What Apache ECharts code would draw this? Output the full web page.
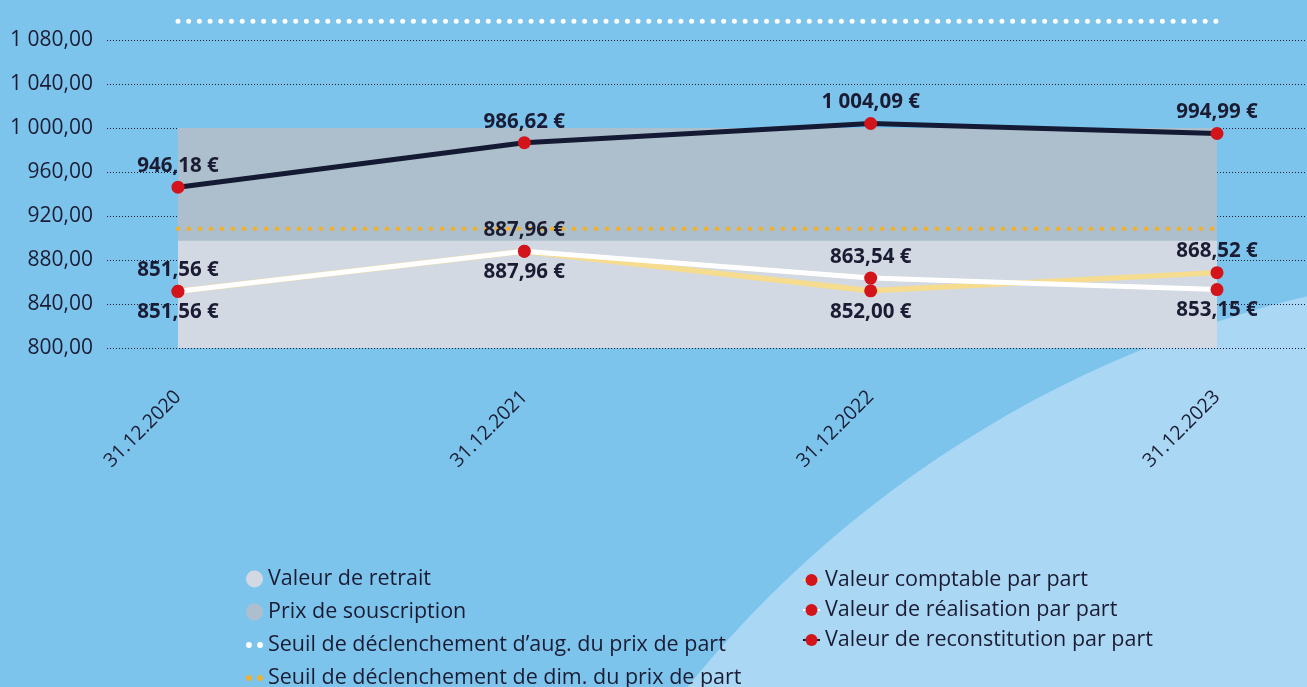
<!DOCTYPE html>
<html>
<head>
<meta charset="utf-8">
<script src="https://cdn.jsdelivr.net/npm/echarts@6/dist/echarts.min.js"></script>
<style>
html,body{margin:0;padding:0;background:#7cc4ec;}
#chart{width:1307px;height:687px;}
</style>
</head>
<body>
<div id="chart"></div>
<script>
const categories = ['31.12.2020', '31.12.2021', '31.12.2022', '31.12.2023'];
const valeurRetrait = [897.5, 897.5, 897.5, 897.5];
const prixSouscription = [1000, 1000, 1000, 1000];
const seuilAugmentation = [1097, 1097, 1097, 1097];
const seuilDiminution = [908.5, 908.5, 908.5, 908.5];
const valeurComptable = [851.56, 887.96, 852.00, 868.52];
const valeurRealisation = [851.56, 887.96, 863.54, 853.15];
const valeurReconstitution = [946.18, 986.62, 1004.09, 994.99];
const yMin = 800, yMax = 1080, yStep = 40;

const FONT = 'Open Sans';
const INK = '#1b1c33';

function fmt(v) {
  const p = v.toFixed(2).split('.');
  return p[0].replace(/\B(?=(\d{3})+(?!\d))/g, ' ') + ',' + p[1];
}
function euro(v) { return fmt(v) + ' €'; }

function withPos(vals, other, tieTop) {
  return vals.map((v, i) => ({
    value: v,
    label: { position: (v > other[i] || (v === other[i] && tieTop)) ? 'top' : 'bottom' }
  }));
}

const twoDots = 'path://M0,2.5a2.5,2.5 0 1,0 5,0a2.5,2.5 0 1,0 -5,0M9.5,2.5a2.5,2.5 0 1,0 5,0a2.5,2.5 0 1,0 -5,0';

const dataLabel = {
  show: true,
  formatter: p => euro(p.value),
  fontFamily: FONT, fontWeight: 'bold', fontSize: 20.5, color: INK,
  distance: 4
};

const chart = echarts.init(document.getElementById('chart'));
chart.setOption({
  backgroundColor: '#7cc4ec',
  animation: false,
  textStyle: { fontFamily: FONT },
  graphic: [{
    type: 'circle', silent: true, z: -10,
    shape: { cx: 1572, cy: 1403, r: 1138 },
    style: { fill: '#aad7f4' }
  }],
  grid: [
    { left: 107, right: 0, top: 40, bottom: 339 },
    { left: 178, right: 90, top: 40, bottom: 339 }
  ],
  xAxis: [
    { gridIndex: 0, type: 'value', show: false, min: 0, max: 1 },
    {
      gridIndex: 1, type: 'category', data: categories, boundaryGap: false,
      axisLine: { show: false }, axisTick: { show: false }, splitLine: { show: false },
      axisLabel: { rotate: 45, margin: 46, fontSize: 19.5, color: INK, fontFamily: FONT }
    }
  ],
  yAxis: [
    {
      gridIndex: 0, type: 'value', min: yMin, max: yMax, interval: yStep,
      axisLine: { show: false }, axisTick: { show: false },
      axisLabel: { formatter: v => fmt(v), fontSize: 21, color: INK, margin: 14, fontFamily: FONT },
      splitLine: { show: true, lineStyle: { color: '#1b1c33', width: 1, type: [1, 2] } }
    },
    {
      gridIndex: 1, type: 'value', min: yMin, max: yMax, interval: yStep,
      show: false, splitLine: { show: false }
    }
  ],
  legend: [
    {
      orient: 'vertical', left: 241, top: 563, height: 160, itemWidth: 17, itemHeight: 17, itemGap: 11,
      symbolKeepAspect: true,
      itemStyle: { borderWidth: 0 },
      textStyle: { fontSize: 21.5, color: INK, fontFamily: FONT, lineHeight: 22 },
      data: [
        { name: 'Valeur de retrait', icon: 'circle' },
        { name: 'Prix de souscription', icon: 'circle' },
        { name: 'Seuil de déclenchement d\u2019aug. du prix de part', icon: twoDots },
        { name: 'Seuil de déclenchement de dim. du prix de part', icon: twoDots }
      ]
    },
    {
      orient: 'vertical', left: 797, top: 564, height: 120, itemWidth: 17, itemHeight: 15, itemGap: 8,
      textStyle: { fontSize: 21.5, color: INK, fontFamily: FONT, lineHeight: 22 },
      data: ['Valeur comptable par part', 'Valeur de réalisation par part', 'Valeur de reconstitution par part']
    }
  ],
  series: [
    {
      name: 'Prix de souscription', type: 'line', xAxisIndex: 1, yAxisIndex: 1,
      data: prixSouscription, showSymbol: false, symbol: 'none', color: '#adbfcc',
      itemStyle: { color: '#adbfcc' },
      lineStyle: { width: 0 }, areaStyle: { color: '#adbfcc', opacity: 1 }, z: 1
    },
    {
      name: 'Valeur de retrait', type: 'line', xAxisIndex: 1, yAxisIndex: 1,
      data: valeurRetrait, showSymbol: false, symbol: 'none', color: '#d3d9e2',
      itemStyle: { color: '#d3d9e2' },
      lineStyle: { width: 0 }, areaStyle: { color: '#d3d9e2', opacity: 1 }, z: 1
    },
    {
      name: 'Seuil de déclenchement d\u2019aug. du prix de part', type: 'line', xAxisIndex: 1, yAxisIndex: 1,
      data: seuilAugmentation, symbol: 'none', clip: false, color: '#ffffff',
      itemStyle: { color: '#ffffff' },
      lineStyle: { color: '#ffffff', width: 5, type: [0, 10.7], cap: 'round' }, z: 2
    },
    {
      name: 'Seuil de déclenchement de dim. du prix de part', type: 'line', xAxisIndex: 1, yAxisIndex: 1,
      data: seuilDiminution, symbol: 'none', color: '#f0b12c',
      itemStyle: { color: '#f0b12c' },
      lineStyle: { color: '#f0b12c', width: 4.5, type: [0, 11], cap: 'round' }, z: 2
    },
    {
      name: 'Valeur comptable par part', type: 'line', xAxisIndex: 1, yAxisIndex: 1,
      data: withPos(valeurComptable, valeurRealisation, true),
      symbol: 'circle', symbolSize: 13, color: '#f6dc8f',
      itemStyle: { color: '#d3141b' },
      lineStyle: { color: '#f6dc8f', width: 5.5 },
      label: dataLabel, z: 3
    },
    {
      name: 'Valeur de réalisation par part', type: 'line', xAxisIndex: 1, yAxisIndex: 1,
      data: withPos(valeurRealisation, valeurComptable, false),
      symbol: 'circle', symbolSize: 13, color: '#ffffff',
      itemStyle: { color: '#d3141b' },
      lineStyle: { color: '#ffffff', width: 5 },
      label: dataLabel, z: 4
    },
    {
      name: 'Valeur de reconstitution par part', type: 'line', xAxisIndex: 1, yAxisIndex: 1,
      data: valeurReconstitution,
      symbol: 'circle', symbolSize: 13, color: '#141a33',
      itemStyle: { color: '#d3141b' },
      lineStyle: { color: '#141a33', width: 5 },
      label: Object.assign({}, dataLabel, { position: 'top' }), z: 5
    }
  ]
});
</script>
</body>
</html>
